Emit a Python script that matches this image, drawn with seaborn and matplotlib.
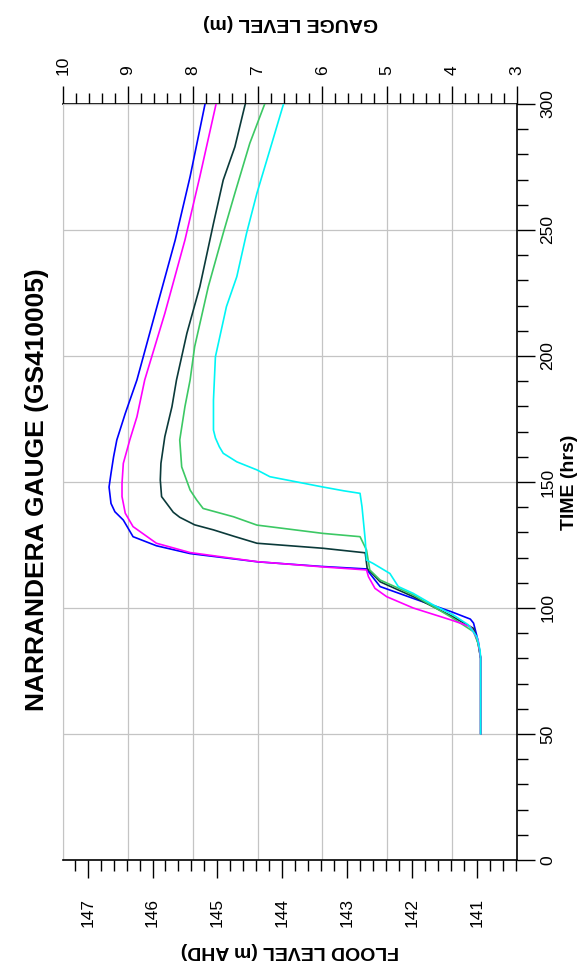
import pandas as pd
import seaborn as sns
import matplotlib.pyplot as plt
from matplotlib.ticker import MultipleLocator

# gauge zero at Narrandera, m AHD
GAUGE_DATUM = 137.38

# flood level (m AHD) against time (hrs) for each run
time_blue = [50, 80, 87, 94, 95.6, 98.5, 103.8, 108.5, 111.1, 114.4, 115.5, 116.5, 118.3, 121.6, 124.7,
             128.3, 134.9, 138.2, 141.5, 148, 153.4, 160, 166.7, 177.2, 190.5, 216.9, 246, 271.2, 300]
level_blue = [140.94, 140.94, 140.98, 141.05, 141.10, 141.39, 141.98, 142.49, 142.57, 142.67, 142.70, 143.40,
              144.37, 145.42, 145.94, 146.30, 146.45, 146.58, 146.64, 146.67, 146.64, 146.60, 146.55, 146.42,
              146.24, 145.96, 145.65, 145.42, 145.19]

time_magenta = [50, 80, 87.3, 92.6, 95.2, 100, 104.5, 107.8, 112.4, 115.1, 116.3, 118.4, 122, 125.7, 132.3,
                137.6, 144.2, 149.5, 157.4, 166.7, 175.9, 190.5, 216.9, 246, 271.2, 300]
level_magenta = [140.94, 140.94, 140.98, 141.10, 141.39, 141.98, 142.39, 142.57, 142.67, 142.70, 143.37,
                 144.39, 145.42, 145.94, 146.30, 146.42, 146.47, 146.47, 146.45, 146.35, 146.24, 146.12,
                 145.81, 145.50, 145.27, 145.02]

time_dark = [50, 80, 86, 91.9, 96.8, 104.5, 110.4, 115.7, 121.9, 123.7, 125.7, 128.5, 131, 133, 136, 138,
             144.2, 150.8, 157.4, 168, 179.9, 190.5, 209, 227.5, 252.6, 269.8, 283, 300]
level_dark = [140.94, 140.94, 140.98, 141.05, 141.39, 141.98, 142.49, 142.69, 142.72, 143.37, 144.39, 144.75,
              145.06, 145.35, 145.58, 145.68, 145.86, 145.88, 145.87, 145.81, 145.70, 145.63, 145.47, 145.27,
              145.06, 144.91, 144.73, 144.57]

time_green = [50, 80, 86, 90.6, 96.3, 105.2, 111.1, 115.1, 123, 128.3, 129.6, 132.9, 136.2, 139.5, 142.9,
              146.8, 156, 166.7, 179.9, 190.5, 203.7, 227.5, 248.7, 264.6, 284.4, 300]
level_green = [140.94, 140.94, 140.98, 141.05, 141.39, 141.98, 142.49, 142.65, 142.70, 142.80, 143.37, 144.39,
               144.75, 145.22, 145.32, 145.42, 145.55, 145.58, 145.50, 145.42, 145.35, 145.14, 144.91, 144.73,
               144.50, 144.27]

time_cyan = [50, 80, 83.3, 88.6, 93.3, 97.2, 101.2, 105.8, 108.5, 113.7, 117.7, 119, 127, 140.2, 145.5, 146.5,
             148.1, 152.1, 154.8, 158, 161.4, 164, 167.5, 170.6, 182.5, 199.7, 219.6, 231.5, 248.7, 264.6, 284.4,
             300]
level_cyan = [140.94, 140.94, 140.95, 141.00, 141.13, 141.36, 141.67, 141.98, 142.21, 142.34, 142.60, 142.70,
              142.72, 142.77, 142.80, 143.05, 143.39, 144.19, 144.39, 144.70, 144.91, 144.97, 145.03, 145.06,
              145.06, 145.03, 144.86, 144.70, 144.55, 144.39, 144.16, 143.98]

runs = ['blue', 'dark', 'green', 'magenta', 'cyan']
colours = {'blue': '#0000ff', 'magenta': '#ff00ff', 'dark': '#0b3a3a', 'green': '#3cc864', 'cyan': '#00f5f5'}
series = {'blue': (time_blue, level_blue), 'magenta': (time_magenta, level_magenta),
          'dark': (time_dark, level_dark), 'green': (time_green, level_green), 'cyan': (time_cyan, level_cyan)}

frames = []
for name in runs:
    t, h = series[name]
    frames.append(pd.DataFrame({'Time': t, 'Level': h, 'Run': name}))
data = pd.concat(frames, ignore_index=True)

sns.set_style('white', {'text.color': 'black', 'xtick.color': 'black', 'ytick.color': 'black',
                        'axes.labelcolor': 'black'})
plt.rcParams['font.family'] = ['Liberation Sans', 'DejaVu Sans']
grid_col = '#c4c4c4'

fig = plt.figure(figsize=(5.86, 9.72), dpi=100)
ax = fig.add_axes([63 / 586, 1 - 860 / 972, 454 / 586, 756 / 972])
gax = ax.twiny()
ax.set_zorder(gax.get_zorder() + 1)
ax.patch.set_visible(False)

sns.lineplot(data=data, x='Level', y='Time', hue='Run', hue_order=runs, palette=colours, orient='y',
             estimator=None, sort=False, lw=1.2, legend=False, ax=ax)

# flood level axis (bottom), running right to left
ax.set_xlim(10 + GAUGE_DATUM, 3 + GAUGE_DATUM)
ax.set_ylim(0, 300)
ax.xaxis.set_major_locator(MultipleLocator(1))
ax.xaxis.set_minor_locator(MultipleLocator(0.2))
ax.xaxis.set_major_formatter(lambda v, p: f'{v:.0f}')
ax.tick_params(axis='x', which='major', bottom=True, length=13, width=1.0, pad=14, labelsize=12.5, labelrotation=90)
ax.tick_params(axis='x', which='minor', bottom=True, length=8, width=1.0)

# time axis (right)
ax.yaxis.tick_right()
ax.yaxis.set_label_position('right')
ax.yaxis.set_major_locator(MultipleLocator(50))
ax.yaxis.set_minor_locator(MultipleLocator(10))
ax.tick_params(axis='y', which='major', right=True, left=False, length=13, width=1.0, pad=4, labelsize=12.5,
               labelrotation=90)
ax.tick_params(axis='y', which='minor', right=True, left=False, length=8, width=1.0)
for lab in ax.get_yticklabels():
    lab.set_va('center')

# gauge level axis (top)
gax.set_xlim(10, 3)
gax.xaxis.set_major_locator(MultipleLocator(1))
gax.xaxis.set_minor_locator(MultipleLocator(0.2))
gax.tick_params(axis='x', which='major', top=True, length=13, width=1.0, pad=8, labelsize=12.5, labelrotation=90)
gax.tick_params(axis='x', which='minor', top=True, length=8, width=1.0)

gax.grid(axis='x', color=grid_col, lw=0.9)
gax.grid(axis='y', visible=False)
ax.grid(axis='y', color=grid_col, lw=0.9)
ax.grid(axis='x', visible=False)
ax.set_axisbelow(True)

for s in ['left', 'right', 'bottom']:
    gax.spines[s].set_visible(False)
gax.spines['top'].set_color('black')
gax.spines['top'].set_linewidth(1.2)
ax.spines['top'].set_visible(False)
ax.spines['left'].set_color(grid_col)
for s in ['right', 'bottom']:
    ax.spines[s].set_color('black')
    ax.spines[s].set_linewidth(1.2)

ax.set_xlabel('FLOOD LEVEL (m AHD)', rotation=180, fontsize=14, fontweight='bold', va='center')
ax.xaxis.set_label_coords(0.5, -90 / 756)
ax.set_ylabel('TIME (hrs)', rotation=90, fontsize=14, fontweight='bold', va='center')
ax.yaxis.set_label_coords(1 + 53 / 454, 0.5)
gax.set_xlabel('GAUGE LEVEL (m)', rotation=180, fontsize=14, fontweight='bold', va='center')
gax.xaxis.set_label_coords(0.5, 1 + 81 / 756)

fig.text(37 / 586, 1 - 490 / 972, 'NARRANDERA GAUGE (GS410005)', rotation=90, fontsize=19, fontweight='bold',
         ha='center', va='center', color='black')

fig.savefig('out.png', dpi=100)
